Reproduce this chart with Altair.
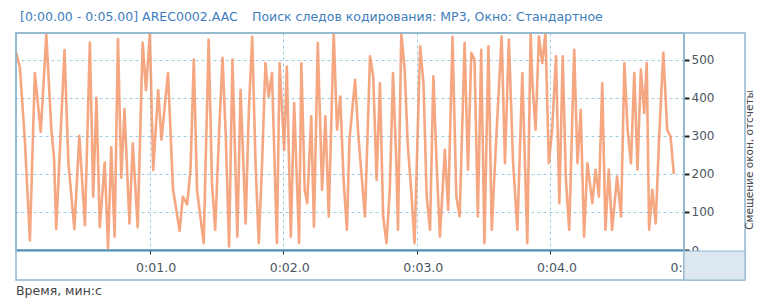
import altair as alt
import pandas as pd

# time (s) and window offset (samples)
times = [0.000, 0.029, 0.066, 0.104, 0.141, 0.185, 0.227, 0.264, 0.285, 0.301,
         0.363, 0.392, 0.437, 0.474, 0.516, 0.553, 0.578, 0.602, 0.627, 0.664,
         0.689, 0.713, 0.738, 0.763, 0.788, 0.812, 0.849, 0.874, 0.911, 0.948,
         0.973, 1.002, 1.027, 1.064, 1.089, 1.138, 1.175, 1.225, 1.249,
         1.281, 1.306, 1.331, 1.355, 1.405, 1.442, 1.467, 1.491, 1.521, 1.546,
         1.570, 1.595, 1.620, 1.657, 1.681, 1.719, 1.743, 1.768, 1.793, 1.817,
         1.842, 1.867, 1.891, 1.916, 1.953, 1.973, 2.007, 2.027, 2.057, 2.082,
         2.119, 2.136, 2.161, 2.180, 2.210, 2.230, 2.259, 2.291, 2.316, 2.341,
         2.378, 2.403, 2.427, 2.452, 2.477,
         2.496, 2.538, 2.563, 2.612, 2.650, 2.674, 2.699, 2.724, 2.748, 2.773,
         2.798, 2.822, 2.847, 2.859, 2.884, 2.909, 2.933, 2.958, 2.983, 3.025,
         3.050, 3.074, 3.099, 3.124, 3.148, 3.173, 3.210, 3.235, 3.267, 3.296,
         3.321, 3.358, 3.383, 3.408, 3.432, 3.457, 3.482, 3.506, 3.536, 3.561,
         3.598, 3.635, 3.660, 3.689, 3.721,
         3.753, 3.790, 3.827, 3.852, 3.864, 3.889, 3.914, 3.939, 3.963, 3.988,
         4.013, 4.042, 4.067, 4.092, 4.116, 4.141, 4.178, 4.203, 4.227, 4.252,
         4.277, 4.314, 4.338, 4.363, 4.388, 4.412, 4.437, 4.462, 4.499, 4.529,
         4.554, 4.578, 4.603, 4.628, 4.652, 4.677, 4.702, 4.721, 4.739, 4.763,
         4.788, 4.813, 4.845, 4.862, 4.874, 4.899, 4.924]
offsets = [520, 480, 290, 25, 465, 310, 565, 320, 240, 55,
           525, 230, 55, 300, 65, 545, 140, 400, 60, 230,
           5, 270, 35, 555, 190, 370, 70, 280, 60, 545,
           420, 570, 210, 420, 290, 465, 160, 50, 140,
           120, 210, 500, 158, 18, 553, 175, 53, 316, 505,
           300, 9, 500, 35, 421, 70, 368, 560, 228, 18,
           228, 491, 403, 465, 18, 491, 263, 482, 35, 386,
           18, 491, 158, 123, 351, 61, 544, 158, 351, 88,
           570, 316, 403, 184, 53,
           289, 447, 298, 88, 509, 456, 184, 438, 88, 18,
           158, 465, 228, 53, 570, 474, 272, 158, 18, 535,
           438, 140, 53, 456, 228, 35, 263, 105, 560, 140,
           88, 544, 211, 518, 500, 88, 526, 18, 535, 53,
           316, 561, 228, 553, 228,
           53, 465, 18, 570, 447, 316, 561, 491, 570, 228,
           316, 509, 123, 509, 184, 53, 526, 228, 368, 35,
           228, 123, 211, 140, 438, 53, 211, 53, 193, 88,
           491, 316, 228, 465, 211, 474, 360, 491, 53, 158,
           70, 289, 518, 403, 316, 298, 200]

x_ticks = [1, 2, 3, 4, 5]
y_ticks = [0, 100, 200, 300, 400, 500]

title_left = "[0:00.00 - 0:05.00] AREC0002.AAC"
title_right = "Поиск следов кодирования: MP3, Окно: Стандартное"
x_title = "Время, мин:с"
y_title = "Смещение окон, отсчеты"

W, H = 668, 217
FONT = "DejaVu Sans"
FRAME = "#8db6cf"

df = pd.DataFrame({"t": times, "v": offsets})
one = pd.DataFrame({"a": [0]})

line = alt.Chart(df).mark_line(
    color="#f28a58", strokeWidth=2.6, opacity=0.75, clip=True, strokeJoin="round"
).encode(
    x=alt.X("t:Q", scale=alt.Scale(domain=[0, 5], nice=False, zero=False),
            axis=alt.Axis(values=x_ticks, title=None, grid=True, gridColor="#9ccbe3",
                          gridDash=[3, 3], gridWidth=1, tickColor="#333", tickSize=4,
                          domainColor="#4d8fba", domainWidth=2, labelPadding=7,
                          labelOffset=6, labelFlush=False, labelOverlap=False,
                          labelColor="#4a5563", labelFont=FONT, labelFontSize=12.5,
                          labelExpr="'0:0' + format(datum.value, '.1f')")),
    y=alt.Y("v:Q", scale=alt.Scale(domain=[0, 570], nice=False),
            axis=alt.Axis(values=y_ticks, orient="right", title=None, grid=True,
                          gridColor="#9ccbe3", gridDash=[3, 3], gridWidth=1,
                          tickColor="#222", tickSize=5, tickWidth=2, domain=False,
                          labelPadding=2, labelColor="#4a5563", labelFont=FONT,
                          labelFontSize=12)),
)

frame = alt.Chart(one).mark_rect(fill=None, stroke=FRAME, strokeWidth=1.5).encode(
    x=alt.value(0), x2=alt.value(729), y=alt.value(0), y2=alt.value(247))
vline = alt.Chart(one).mark_rule(color=FRAME, strokeWidth=1.5).encode(
    x=alt.value(668), y=alt.value(0), y2=alt.value(247))
box = alt.Chart(one).mark_rect(fill="#dde7f0", stroke=FRAME, strokeWidth=1).encode(
    x=alt.value(668), x2=alt.value(729), y=alt.value(218), y2=alt.value(247))

t1 = alt.Chart(one).mark_text(align="left", baseline="middle", font=FONT, fontSize=12.5,
                              color="#3d7dbd").encode(
    x=alt.value(4), y=alt.value(-16), text=alt.value(title_left))
t2 = alt.Chart(one).mark_text(align="left", baseline="middle", font=FONT, fontSize=12.5,
                              color="#3d7dbd").encode(
    x=alt.value(236), y=alt.value(-16), text=alt.value(title_right))
xt = alt.Chart(one).mark_text(align="left", baseline="middle", font=FONT, fontSize=12.5,
                              color="#444").encode(
    x=alt.value(0), y=alt.value(258), text=alt.value(x_title))
yt = alt.Chart(one).mark_text(align="center", baseline="alphabetic", font=FONT,
                              fontSize=10.5, color="#444", angle=270).encode(
    x=alt.value(736.5), y=alt.value(127), text=alt.value(y_title))

chart = alt.layer(line, frame, vline, box, t1, t2, xt, yt).properties(
    width=W, height=H,
    autosize=alt.AutoSizeParams(type="none"),
    padding={"left": 8, "top": 25, "right": 70, "bottom": 50},
    background="white",
).configure_view(stroke=FRAME, strokeWidth=1.5)

chart.save("out.html", embed_options={"renderer": "svg", "actions": False})
